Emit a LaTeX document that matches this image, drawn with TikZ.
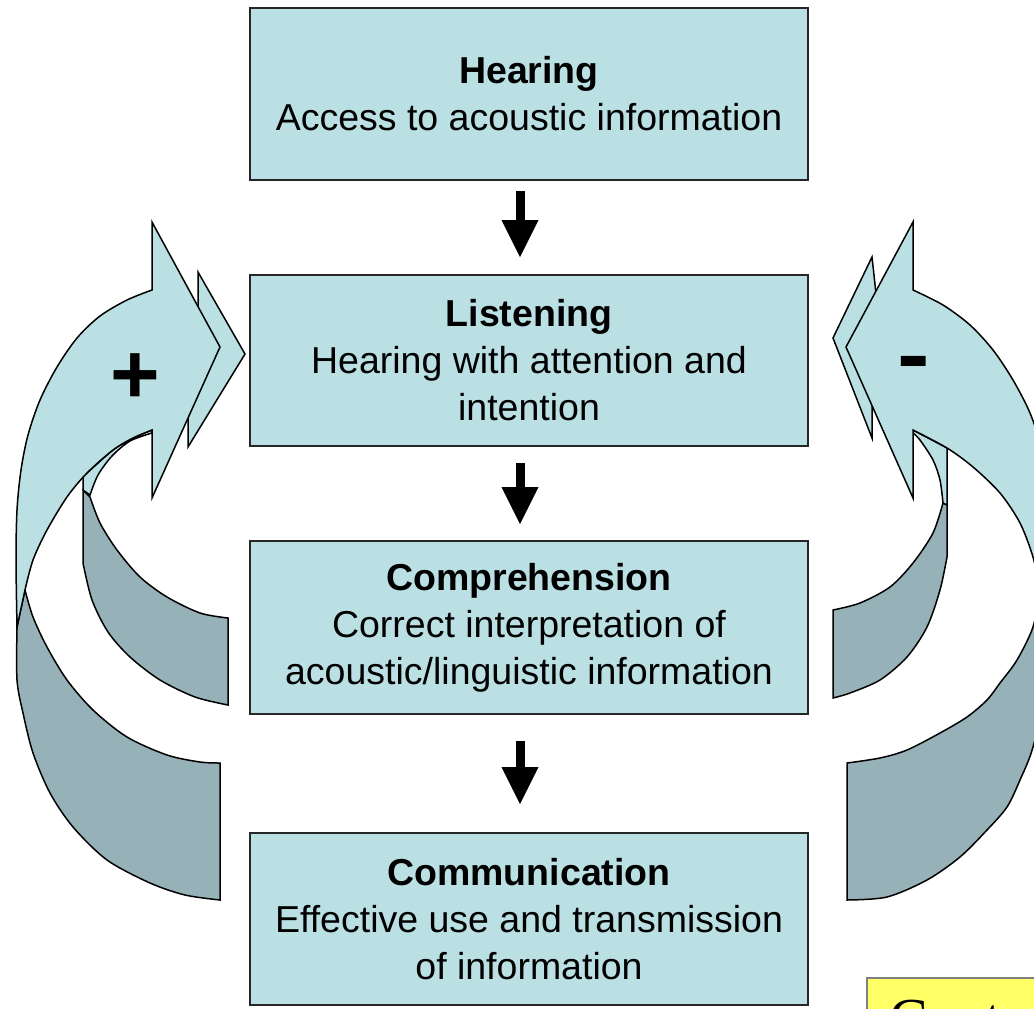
\documentclass[tikz,border=0pt]{standalone}
\usepackage{fontspec}
\setmainfont{Liberation Sans}
\newfontfamily\notefont{Liberation Serif}
\usetikzlibrary{arrows.meta}
\definecolor{stageblue}{RGB}{187,224,228}
\definecolor{bandgray}{RGB}{150,178,184}
\definecolor{noteyellow}{RGB}{255,255,102}

\begin{document}
\begin{tikzpicture}[x=1pt,y=-1pt,
  stagebox/.style={draw=black!85,line width=1.6pt,fill=stageblue,minimum width=558pt,minimum height=172pt,inner sep=0pt,align=center,font=\fontsize{37.5}{47}\selectfont},
  flowarrow/.style={line width=9pt,-{Triangle[width=37pt,length=37pt,line width=0pt]}},
  loopface/.style={draw=black,line width=1.5pt,fill=stageblue},
  loopband/.style={draw=black,line width=1.5pt,fill=bandgray},
  signlabel/.style={inner sep=0pt,font=\fontsize{85}{85}\selectfont\bfseries},
  notebox/.style={draw=black!50,line width=2pt,fill=noteyellow,anchor=north west,inner sep=22pt,text width=300pt,align=left,font=\notefont\fontsize{58}{58}\selectfont}]
\useasboundingbox (0,0) rectangle (1034,1009);
\clip (0,0) rectangle (1034,1009);

\node[stagebox] (hearing) at (529,94) {\textbf{Hearing}\\Access to acoustic information};
\node[stagebox,minimum height=171pt] (listening) at (529,360.5) {\textbf{Listening}\\Hearing with attention and\\intention};
\node[stagebox,minimum height=173pt] (comprehension) at (529,627.5) {\textbf{Comprehension}\\Correct interpretation of\\acoustic/linguistic information};
\node[stagebox] (communication) at (529,919) {\textbf{Communication}\\Effective use and transmission\\of information};

\draw[flowarrow,shorten <=10pt,shorten >=17pt] ([xshift=-9pt]hearing.south) -- ([xshift=-9pt]listening.north);
\draw[flowarrow,shorten <=16pt,shorten >=16pt] ([xshift=-9pt]listening.south) -- ([xshift=-9pt]comprehension.north);
\draw[flowarrow,shorten <=26pt,shorten >=28pt] ([xshift=-9pt]comprehension.south) -- ([xshift=-9pt]communication.north);

% left loop (+)
\draw[loopband] (83,490) -- (83,563) -- plot[smooth] coordinates {(83,563) (92,600) (108,632) (130,657) (160,680) (195,697) (228,705)} -- (228,618) -- plot[smooth] coordinates {(228,618) (200,613) (167,597) (140,577) (117,550) (100,523) (90,497)} -- cycle;
\draw[loopface] (152,430) -- plot[smooth] coordinates {(152,430) (133,438) (113,450) (87,473) (83,476)} -- (83,490) -- plot[smooth] coordinates {(90,495) (98,475) (112,456) (130,441) (152,433)} -- cycle;
\draw[loopband] plot[smooth] coordinates {(17,627) (17,680) (23,713) (33,753) (50,793) (73,827) (107,860) (150,883) (185,895) (220,900)} -- (220,763) -- plot[smooth] coordinates {(220,763) (200,762) (167,755) (127,737) (93,710) (67,680) (47,647) (33,617) (25,590)} -- cycle;
\draw[loopface] (198,272) -- (245,354) -- (188,447) -- (188,380) -- (198,330) -- cycle;
\draw[loopface] plot[smooth] coordinates {(17,627) (16,560) (17,510) (21,470) (28,435) (40,400) (57,367) (77,338) (100,316) (127,300) (152,290)} -- (152,222) -- (220,347) -- (152,498) -- (152,430) -- plot[smooth] coordinates {(152,430) (133,438) (113,450) (87,473) (67,497) (47,530) (33,560) (25,590)} -- cycle;
\node[signlabel] (plus) at (135,379) {+};

% right loop (-)
\draw[loopband] (947,505) -- (947,557) -- plot[smooth] coordinates {(947,557) (940,590) (927,627) (907,657) (880,680) (850,693) (833,698)} -- (833,610) -- plot[smooth] coordinates {(833,610) (860,603) (890,587) (913,563) (933,533) (943,503)} -- cycle;
\draw[loopface] (913,430) -- (947,448) -- (947,505) -- (943,503) -- plot[smooth] coordinates {(943,503) (940,480) (933,460) (920,440) (913,433)} -- cycle;
\draw[loopband] plot[smooth] coordinates {(1052,620) (1048,680) (1033,747) (1020,780) (1007,807) (987,830) (960,857) (927,880) (887,897) (847,900)} -- (847,763) -- plot[smooth] coordinates {(847,763) (880,758) (907,750) (940,733) (967,717) (987,700) (1000,683) (1017,660) (1033,627) (1040,590)} -- cycle;
\draw[loopface] (872,257) -- (833,338) -- (872,438) -- (872,390) -- (880,330) -- cycle;
\draw[loopface] plot[smooth] coordinates {(1052,620) (1054,560) (1050,500) (1042,450) (1030,413) (1013,380) (993,350) (970,325) (943,305) (913,290)} -- (913,222) -- (846,347) -- (913,498) -- (913,430) -- plot[smooth] coordinates {(913,430) (947,448) (973,467) (1000,493) (1020,523) (1033,557) (1040,590)} -- cycle;
\node[signlabel,xscale=1.15] (minus) at (914,370) {-};

\node[notebox] (note) at (866,977) {Cont};
\end{tikzpicture}
\end{document}
